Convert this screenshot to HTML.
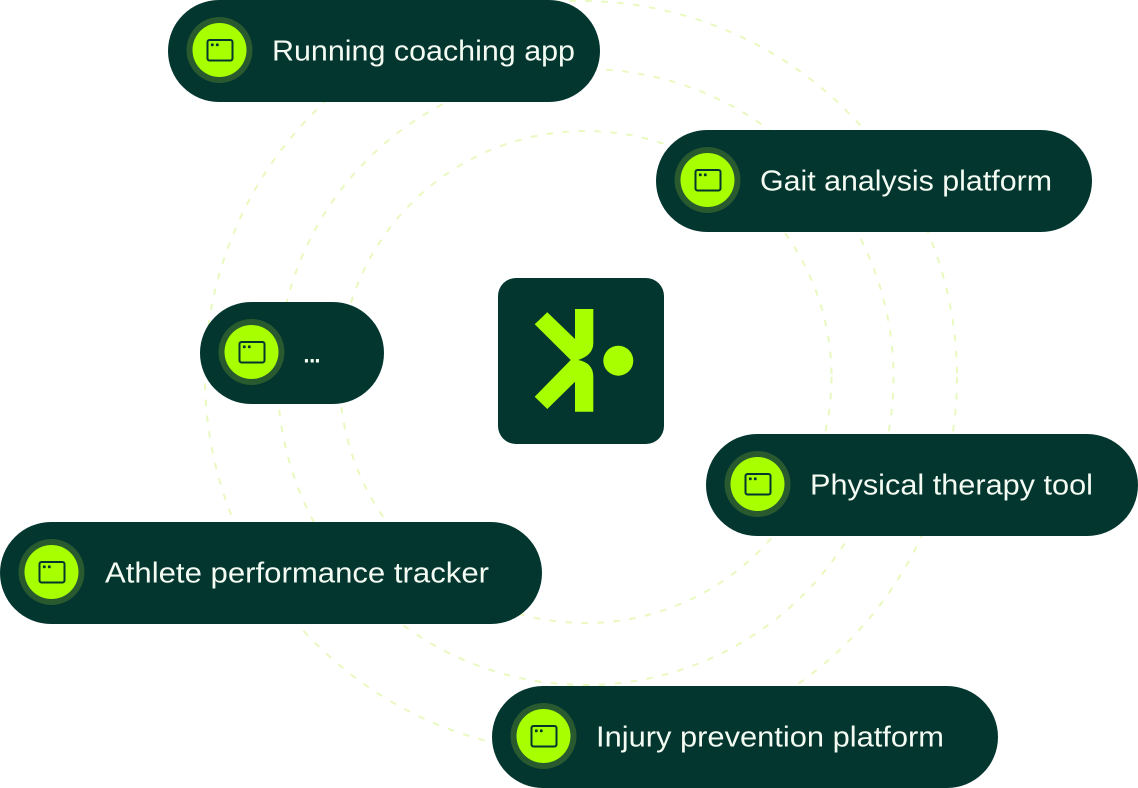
<!DOCTYPE html>
<html lang="en">
<head>
<meta charset="utf-8">
<title>Diagram</title>
<style>
html,body{margin:0;padding:0;background:#fff;width:1138px;height:788px;overflow:hidden}
svg{display:block}
text{font-family:"Liberation Sans",sans-serif;font-size:29px;fill:#f3fbf2}
</style>
</head>
<body>
<svg width="1138" height="788" viewBox="0 0 1138 788" xmlns="http://www.w3.org/2000/svg">
<defs>
<g id="ic">
<circle cx="0" cy="0" r="33" fill="#28592f"/>
<circle cx="0" cy="0" r="27" fill="#a8ff00"/>
<rect x="-12" y="-10" width="25" height="20.5" rx="2" fill="none" stroke="#03362f" stroke-width="2"/>
<rect x="-8.6" y="-6.6" width="2.8" height="2.8" rx="1" fill="#03362f"/>
<rect x="-3.6" y="-6.6" width="2.8" height="2.8" rx="1" fill="#03362f"/>
</g>
</defs>

<g fill="none" stroke="#e9f9bf" stroke-width="2" stroke-dasharray="6.5 9.5">
<circle cx="581" cy="377" r="376"/>
<circle cx="585.5" cy="377" r="308"/>
<circle cx="585.5" cy="377" r="246"/>
</g>

<g fill="#03362f">
<rect x="168" y="0" width="432" height="102" rx="51"/>
<rect x="656" y="130" width="436" height="102" rx="51"/>
<rect x="200" y="302" width="184" height="102" rx="51"/>
<rect x="706" y="434" width="432" height="102" rx="51"/>
<rect x="0" y="522" width="542" height="102" rx="51"/>
<rect x="492" y="686" width="506" height="102" rx="51"/>
<rect x="498" y="278" width="166" height="166" rx="18"/>
</g>

<path fill="#a8ff00" d="M547.3 312.3 L575 339 L575 309 L593.3 309 L593.3 343.3 Q593.3 355 578.3 360 Q593.3 363 593.3 376.7 L593.3 411.7 L575 411.7 L575 381.7 L547.3 409 L534.7 396.7 L570.7 360 L534.7 324.3 Z"/>
<circle cx="618.3" cy="360.7" r="15" fill="#a8ff00"/>

<use href="#ic" x="219.5" y="50"/>
<use href="#ic" x="707.5" y="180"/>
<use href="#ic" x="251.5" y="352"/>
<use href="#ic" x="757.5" y="484"/>
<use href="#ic" x="51.5" y="572"/>
<use href="#ic" x="543.5" y="736"/>

<text x="272" y="60.5" textLength="303" lengthAdjust="spacingAndGlyphs">Running coaching app</text>
<text x="760" y="190.5" textLength="292" lengthAdjust="spacingAndGlyphs">Gait analysis platform</text>
<text x="302 307.8 313" y="362.5" style="font-size:32px">...</text>
<text x="810" y="494.5" textLength="283" lengthAdjust="spacingAndGlyphs">Physical therapy tool</text>
<text x="105" y="582.5" textLength="384" lengthAdjust="spacingAndGlyphs">Athlete performance tracker</text>
<text x="596" y="746.5" textLength="348" lengthAdjust="spacingAndGlyphs">Injury prevention platform</text>
</svg>
</body>
</html>
